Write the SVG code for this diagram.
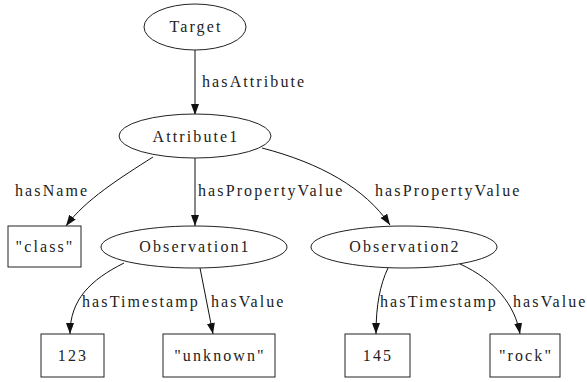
<svg xmlns="http://www.w3.org/2000/svg" width="587" height="382" viewBox="0 0 587 382">
  <style>
    .node ellipse, .node rect { fill: #fff; stroke: #222; stroke-width: 1; }
    text { font-family: "Liberation Serif", "Times New Roman", serif; font-size: 16px; letter-spacing: 2.1px; fill: #222; }
    .node text { text-anchor: middle; }
    .edge path { fill: none; stroke: #111; stroke-width: 1; marker-end: url(#arrow); }
  </style>
  <defs>
    <marker id="arrow" markerUnits="userSpaceOnUse" markerWidth="12" markerHeight="9" refX="11" refY="4" orient="auto">
      <path d="M0,0 L11,4 L0,8 z" fill="#111"/>
    </marker>
  </defs>
  <rect width="587" height="382" fill="#fff"/>

  <g id="edges">
    <g class="edge"><path d="M195,50 L195,115"/><text x="202" y="87">hasAttribute</text></g>
    <g class="edge"><path d="M153,157 C120,178 85,200 66,226"/><text x="15" y="196">hasName</text></g>
    <g class="edge"><path d="M195,158 L195,226"/><text x="198" y="196">hasPropertyValue</text></g>
    <g class="edge"><path d="M262,148 C320,163 365,188 390,225"/><text x="375" y="196">hasPropertyValue</text></g>
    <g class="edge"><path d="M124,263 C90,280 70,300 70,334"/><text x="82" y="307">hasTimestamp</text></g>
    <g class="edge"><path d="M200,268 L213,334"/><text x="211" y="307">hasValue</text></g>
    <g class="edge"><path d="M388,268 C380,285 376,305 376,334"/><text x="380" y="307">hasTimestamp</text></g>
    <g class="edge"><path d="M460,264 C495,280 515,305 520,334"/><text x="513" y="307">hasValue</text></g>
  </g>

  <g id="Target" class="node"><ellipse cx="195" cy="27" rx="51" ry="23"/><text x="196" y="32">Target</text></g>
  <g id="Attribute1" class="node"><ellipse cx="195" cy="136" rx="76" ry="22"/><text x="196" y="142">Attribute1</text></g>
  <g id="class" class="node"><rect x="8" y="226" width="73" height="41"/><text x="45" y="252">"class"</text></g>
  <g id="Observation1" class="node"><ellipse cx="194" cy="247" rx="93" ry="21"/><text x="195" y="252">Observation1</text></g>
  <g id="Observation2" class="node"><ellipse cx="404" cy="247" rx="93" ry="21"/><text x="405" y="252">Observation2</text></g>
  <g id="n123" class="node"><rect x="41" y="334" width="63" height="43"/><text x="73" y="361">123</text></g>
  <g id="unknown" class="node"><rect x="163" y="334" width="112" height="43"/><text x="220" y="361">"unknown"</text></g>
  <g id="n145" class="node"><rect x="345" y="334" width="65" height="43"/><text x="378" y="361">145</text></g>
  <g id="rock" class="node"><rect x="490" y="334" width="70" height="43"/><text x="526" y="361">"rock"</text></g>
</svg>
